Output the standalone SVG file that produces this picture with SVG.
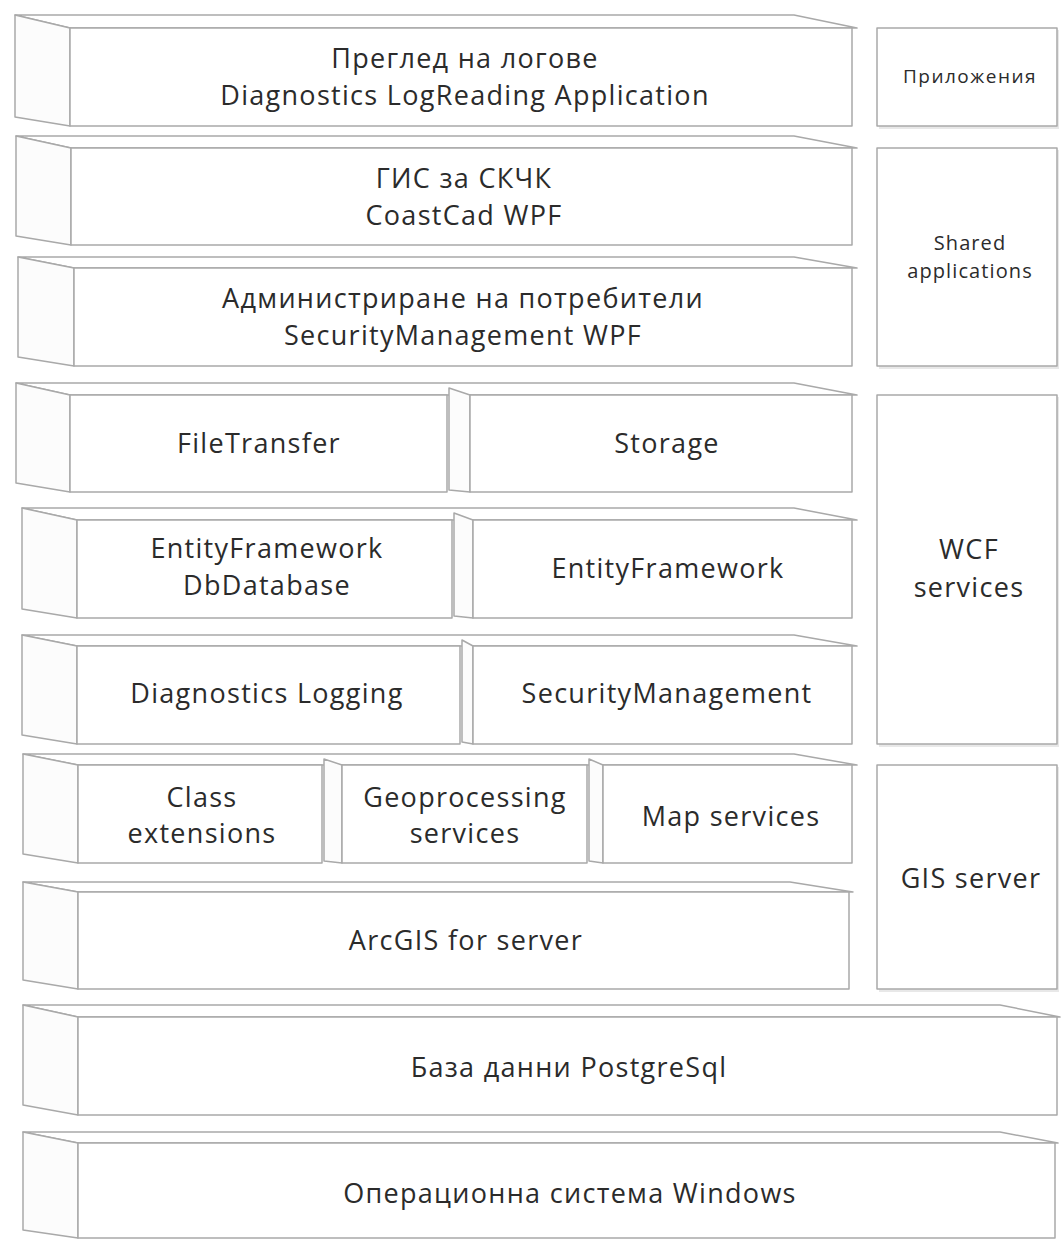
<svg xmlns="http://www.w3.org/2000/svg" width="1061" height="1241" viewBox="0 0 1061 1241">
<style>
.f{fill:#fff;stroke:#a9a9a9;stroke-width:1.5;stroke-linejoin:round}
.s{fill:#fcfcfc;stroke:#a9a9a9;stroke-width:1.5;stroke-linejoin:round}
.t{fill:#fff;stroke:#a9a9a9;stroke-width:1.5;stroke-linejoin:round}
.sh{fill:#e8e8e8}
text{font-family:"Open Sans","Noto Sans","Liberation Sans",sans-serif;fill:#2b2b2b;text-anchor:middle}
.L{font-size:27px;letter-spacing:1.3px}
.M{font-size:20px;letter-spacing:1.1px}
.S{font-size:19px;letter-spacing:1.5px}
</style>
<rect width="1061" height="1241" fill="#fff"/>

<g id="row1">
<polygon class="t" points="15,15 794,15 857,28 70,28"/>
<polygon class="s" points="15,15 70,28 70,126 15,117"/>
<rect class="f" x="70" y="28" width="782" height="98"/>
<text class="L" x="465" y="68">Преглед на логове</text>
<text class="L" x="465" y="105">Diagnostics LogReading Application</text>
</g>

<g id="row2">
<polygon class="t" points="16,136 794,136 857,148 71,148"/>
<polygon class="s" points="16,136 71,148 71,245 16,236"/>
<rect class="f" x="71" y="148" width="781" height="97"/>
<text class="L" x="464" y="188">ГИС за СКЧК</text>
<text class="L" x="464" y="225">CoastCad WPF</text>
</g>

<g id="row3">
<polygon class="t" points="18,257 794,257 857,268 74,268"/>
<polygon class="s" points="18,257 74,268 74,366 18,357"/>
<rect class="f" x="74" y="268" width="778" height="98"/>
<text class="L" x="463" y="308">Администриране на потребители</text>
<text class="L" x="463" y="345">SecurityManagement WPF</text>
</g>

<g id="row4">
<polygon class="t" points="16,383 794,383 857,395 70,395"/>
<g id="filetransfer">
<polygon class="s" points="16,383 70,395 70,492 16,483"/>
<rect class="f" x="70" y="395" width="377" height="97"/>
<text class="L" x="259" y="453">FileTransfer</text>
</g>
<g id="storage">
<polygon class="s" points="449,388 470,395 470,492 449,490"/>
<rect class="f" x="470" y="395" width="382" height="97"/>
<text class="L" x="667" y="453">Storage</text>
</g>
</g>

<g id="row5">
<polygon class="t" points="22,508 794,508 857,520 77,520"/>
<g id="ef-db">
<polygon class="s" points="22,508 77,520 77,618 22,609"/>
<rect class="f" x="77" y="520" width="375" height="98"/>
<text class="L" x="267" y="558">EntityFramework</text>
<text class="L" x="267" y="595">DbDatabase</text>
</g>
<g id="ef">
<polygon class="s" points="454,513 473,520 473,618 454,616"/>
<rect class="f" x="473" y="520" width="379" height="98"/>
<text class="L" x="668" y="578">EntityFramework</text>
</g>
</g>

<g id="row6">
<polygon class="t" points="22,635 794,635 857,646 77,646"/>
<g id="diaglog">
<polygon class="s" points="22,635 77,646 77,744 22,735"/>
<rect class="f" x="77" y="646" width="383" height="98"/>
<text class="L" x="267" y="703">Diagnostics Logging</text>
</g>
<g id="secmgmt">
<polygon class="s" points="462,640 473,646 473,744 462,742"/>
<rect class="f" x="473" y="646" width="379" height="98"/>
<text class="L" x="667" y="703">SecurityManagement</text>
</g>
</g>

<g id="row7">
<polygon class="t" points="23,754 794,754 857,765 78,765"/>
<g id="classext">
<polygon class="s" points="23,754 78,765 78,863 23,854"/>
<rect class="f" x="78" y="765" width="244" height="98"/>
<text class="L" x="202" y="807">Class</text>
<text class="L" x="202" y="843">extensions</text>
</g>
<g id="geoproc">
<polygon class="s" points="324,759 342,765 342,863 324,861"/>
<rect class="f" x="342" y="765" width="245" height="98"/>
<text class="L" x="465" y="807">Geoprocessing</text>
<text class="L" x="465" y="843">services</text>
</g>
<g id="mapsvc">
<polygon class="s" points="589,759 603,765 603,863 589,861"/>
<rect class="f" x="603" y="765" width="249" height="98"/>
<text class="L" x="731" y="826">Map services</text>
</g>
</g>

<g id="row8">
<polygon class="t" points="23,882 790,882 853,892 78,892"/>
<polygon class="s" points="23,882 78,892 78,989 23,980"/>
<rect class="f" x="78" y="892" width="771" height="97"/>
<text class="L" x="466" y="950">ArcGIS for server</text>
</g>

<g id="row9">
<polygon class="t" points="23,1005 1000,1005 1060,1017 78,1017"/>
<polygon class="s" points="23,1005 78,1017 78,1115 23,1105"/>
<rect class="f" x="78" y="1017" width="979" height="98"/>
<text class="L" x="569" y="1077">База данни PostgreSql</text>
</g>

<g id="row10">
<polygon class="t" points="23,1132 1000,1132 1058,1143 78,1143"/>
<polygon class="s" points="23,1132 78,1143 78,1238 23,1230"/>
<rect class="f" x="78" y="1143" width="977" height="95"/>
<text class="L" x="570" y="1203">Операционна система Windows</text>
</g>

<g id="lbl-apps">
<rect class="sh" x="879" y="30" width="180" height="99"/>
<rect class="f" x="877" y="28" width="180" height="98"/>
<text class="S" x="970" y="83">Приложения</text>
</g>
<g id="lbl-shared">
<rect class="sh" x="879" y="150" width="180" height="219"/>
<rect class="f" x="877" y="148" width="180" height="218"/>
<text class="M" x="970" y="250">Shared</text>
<text class="M" x="970" y="278">applications</text>
</g>
<g id="lbl-wcf">
<rect class="sh" x="879" y="397" width="180" height="350"/>
<rect class="f" x="877" y="395" width="180" height="349"/>
<text class="L" x="969" y="559">WCF</text>
<text class="L" x="969" y="597">services</text>
</g>
<g id="lbl-gis">
<rect class="sh" x="879" y="767" width="180" height="225"/>
<rect class="f" x="877" y="765" width="180" height="224"/>
<text class="L" x="971" y="888">GIS server</text>
</g>
<g id="connectors"></g>
</svg>
